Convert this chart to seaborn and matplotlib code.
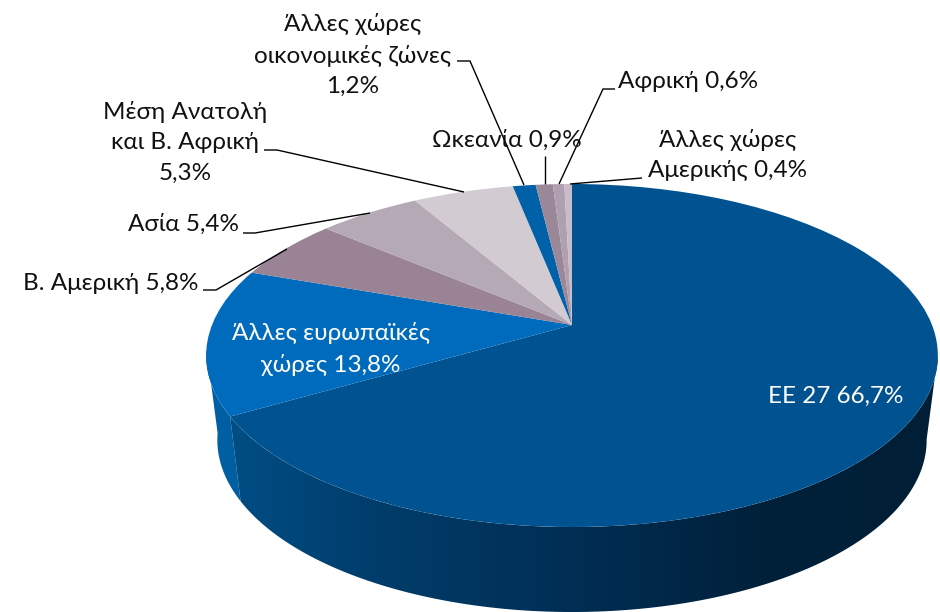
import numpy as np
import matplotlib
matplotlib.use("Agg")
import matplotlib.pyplot as plt
from matplotlib.colors import LinearSegmentedColormap
from matplotlib.patches import Polygon
from matplotlib.transforms import Transform
import seaborn as sns

values = [66.7, 13.8, 5.8, 5.4, 5.3, 1.2, 0.9, 0.6, 0.4]
colors = ["#005390", "#006BBD", "#998395", "#B5A9B6", "#D2CBD2",
          "#0060A8", "#9A8898", "#B09FB0", "#C8BCC8"]
side_left = "#005FA3"

sns.set_theme(style="white")
plt.rcParams["font.family"] = ["Lato", "Noto Sans", "DejaVu Sans"]


class Persp(Transform):
    """Perspective view of a unit disc, into pixel coordinates."""
    input_dims = output_dims = 2
    has_inverse = False

    def __init__(self, a, b, c, k=0.1778):
        super().__init__()
        self.a, self.b, self.c, self.k = a, b, c, k

    def transform_non_affine(self, xy):
        xy = np.asarray(xy, float)
        u, v = xy[:, 0], xy[:, 1]
        d = 1 + self.k * v
        return np.column_stack([572 + self.a * u / d, (self.b + self.c * v) / d])


top = Persp(360, 325, -108.3)
bottom = Persp(349, 409.4, -93.8)

fig = plt.figure(figsize=(9.4, 6.12), dpi=100, facecolor="white")
ax = fig.add_axes([0, 0, 1, 1])

wedges, _ = ax.pie(values, colors=colors, startangle=90, counterclock=False,
                   wedgeprops={"linewidth": 0})
ax.set_aspect("auto")
for w in wedges:
    w.set_transform(top + ax.transData)
    w.set_zorder(3)


def rim(theta_deg, tr):
    t = np.radians(theta_deg)
    return tr.transform_non_affine(np.column_stack([np.sin(t), np.cos(t)]))


def side_polygon(t0, t1, n=300):
    th = np.linspace(t0, t1, n)
    return np.vstack([rim(th, top), rim(th[::-1], bottom)])


scale = 360 / sum(values)
end0 = values[0] * scale

grad = LinearSegmentedColormap.from_list(
    "side", [(0, "#004E86"), (0.18, "#003F6E"), (0.47, "#002F55"),
             (0.76, "#00203A"), (1, "#001F36")])
strip = np.linspace(0, 1, 256).reshape(1, -1)
img = ax.imshow(strip, cmap=grad, extent=(225, 940, 612, 0), aspect="auto",
                zorder=1, interpolation="bilinear")
patch = Polygon(side_polygon(100, end0), closed=True, transform=ax.transData,
                facecolor="none", edgecolor="none")
ax.add_patch(patch)
img.set_clip_path(patch)

ax.add_patch(Polygon(side_polygon(end0, 262), closed=True, facecolor=side_left,
                     edgecolor="none", zorder=0.9))

ax.set_xlim(0, 940)
ax.set_ylim(612, 0)
ax.axis("off")

leaders = [
    ([570, 642], [184, 178]),
    ([559, 603, 615], [184, 89, 89]),
    ([545, 545], [184, 156]),
    ([524, 470, 457], [185, 61, 61]),
    ([464, 277, 264], [192, 150, 150]),
    ([370, 255, 243], [213, 233, 233]),
    ([287, 216, 203], [249, 290, 290]),
]
for xs, ys in leaders:
    ax.plot(xs, ys, color="black", lw=1.0, zorder=4, solid_capstyle="butt")

fs = 17.5
dark = "#111111"
labels = [
    (353, 55, "Άλλες χώρες\nοικονομικές ζώνες\n1,2%", dark),
    (688, 82, "Αφρική 0,6%", dark),
    (507, 140, "Ωκεανία 0,9%", dark),
    (728, 155, "Άλλες χώρες\nΑμερικής 0,4%", dark),
    (185, 142, "Μέση Ανατολή\nκαι Β. Αφρική\n5,3%", dark),
    (183, 224, "Ασία 5,4%", dark),
    (111, 283, "Β. Αμερική 5,8%", dark),
    (331, 349, "Άλλες ευρωπαϊκές\nχώρες 13,8%", "white"),
    (836, 396, "ΕΕ 27 66,7%", "white"),
]
for x, y, s, c in labels:
    ax.text(x, y, s, ha="center", va="center", multialignment="center", fontsize=fs,
            color=c, linespacing=1.55, zorder=5)

fig.savefig("out.png", dpi=100, facecolor="white")
